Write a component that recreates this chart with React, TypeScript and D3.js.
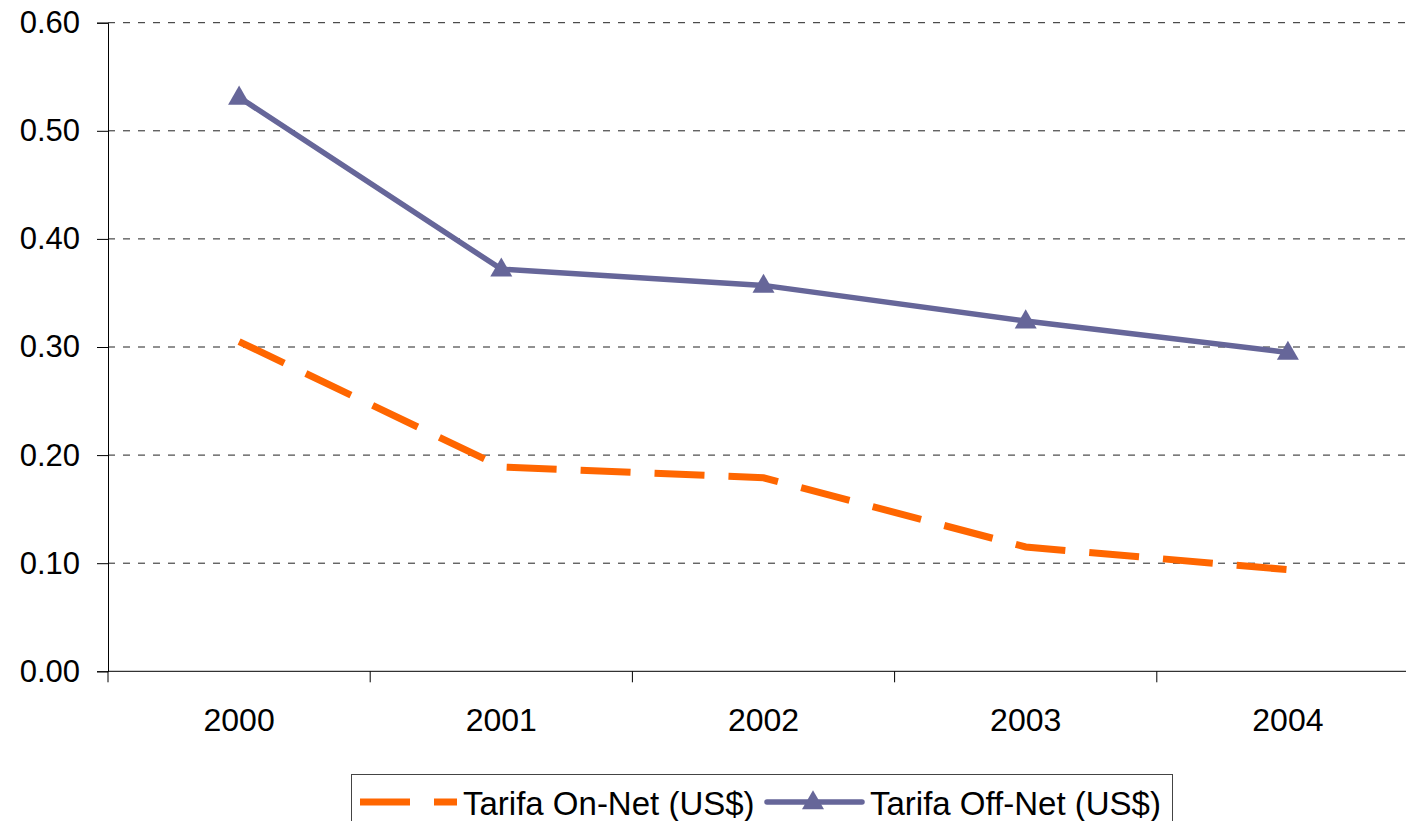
import React, { useRef, useEffect } from 'react';
import * as d3 from 'd3';

const years = ['2000', '2001', '2002', '2003', '2004'];
const onNet = [0.305, 0.189, 0.179, 0.115, 0.094];
const offNet = [0.531, 0.372, 0.357, 0.324, 0.295];
const yTicks = [0, 0.1, 0.2, 0.3, 0.4, 0.5, 0.6];

const W = 1406;
const H = 821;
const FONT = 'Liberation Sans, Arial, sans-serif';
const ORANGE = '#FF6600';
const PURPLE = '#666699';

const App = () => {
  const svgRef = useRef<SVGSVGElement>(null);

  useEffect(() => {
    const svg = d3.select(svgRef.current);
    svg.selectAll('*').remove();

    const margin = { top: 22.7, left: 108, bottom: 671.3 };
    const bandW = 262.2;

    const x = d3.scaleBand()
      .domain(years)
      .range([margin.left, margin.left + bandW * years.length]);

    const y = d3.scaleLinear()
      .domain([0, 0.6])
      .range([margin.bottom, margin.top]);

    // gridlines
    svg.append('g')
      .selectAll('line')
      .data(yTicks.slice(1))
      .enter()
      .append('line')
      .attr('x1', margin.left)
      .attr('x2', W)
      .attr('y1', d => y(d))
      .attr('y2', d => y(d))
      .attr('stroke', '#222')
      .attr('stroke-width', 1)
      .attr('stroke-dasharray', '7 8');

    // y axis
    const yAxis = d3.axisLeft(y)
      .tickValues(yTicks)
      .tickFormat(d3.format('.2f'))
      .tickSize(11)
      .tickPadding(17);
    const gy = svg.append('g')
      .attr('transform', `translate(${margin.left},0)`)
      .call(yAxis);
    gy.select('.domain').attr('stroke', '#000');
    gy.selectAll('line').attr('stroke', '#000');
    gy.selectAll('text')
      .attr('font-family', FONT)
      .attr('font-size', 31)
      .attr('fill', '#000');

    // x axis
    svg.append('line')
      .attr('x1', margin.left)
      .attr('x2', W)
      .attr('y1', margin.bottom)
      .attr('y2', margin.bottom)
      .attr('stroke', '#000');
    svg.append('g')
      .selectAll('line')
      .data(d3.range(years.length + 1))
      .enter()
      .append('line')
      .attr('x1', i => margin.left + i * bandW)
      .attr('x2', i => margin.left + i * bandW)
      .attr('y1', margin.bottom)
      .attr('y2', margin.bottom + 11)
      .attr('stroke', '#000');
    svg.append('g')
      .selectAll('text')
      .data(years)
      .enter()
      .append('text')
      .attr('x', d => (x(d) as number) + x.bandwidth() / 2)
      .attr('y', 731)
      .attr('text-anchor', 'middle')
      .attr('font-family', FONT)
      .attr('font-size', 32)
      .text(d => d);

    const cx = (i: number) => (x(years[i]) as number) + x.bandwidth() / 2;
    const line = d3.line<number>()
      .x((d, i) => cx(i))
      .y(d => y(d));

    svg.append('path')
      .datum(onNet)
      .attr('d', line)
      .attr('fill', 'none')
      .attr('stroke', ORANGE)
      .attr('stroke-width', 7)
      .attr('stroke-dasharray', '50 24');

    svg.append('path')
      .datum(offNet)
      .attr('d', line)
      .attr('fill', 'none')
      .attr('stroke', PURPLE)
      .attr('stroke-width', 5.5);

    const tri = d3.symbol().type(d3.symbolTriangle).size(210);
    svg.append('g')
      .selectAll('path')
      .data(offNet)
      .enter()
      .append('path')
      .attr('d', tri)
      .attr('transform', (d, i) => `translate(${cx(i)},${y(d) + 1})`)
      .attr('fill', PURPLE);

    // legend
    const lg = svg.append('g');
    lg.append('rect')
      .attr('x', 351.5)
      .attr('y', 774.5)
      .attr('width', 821)
      .attr('height', 80)
      .attr('fill', '#fff')
      .attr('stroke', '#444');
    const ly = 802;
    lg.append('line')
      .attr('x1', 360).attr('x2', 457)
      .attr('y1', ly).attr('y2', ly)
      .attr('stroke', ORANGE)
      .attr('stroke-width', 7)
      .attr('stroke-dasharray', '50 24');
    lg.append('text')
      .attr('x', 463).attr('y', 815)
      .attr('font-family', FONT)
      .attr('font-size', 33)
      .text('Tarifa On-Net (US$)');
    lg.append('line')
      .attr('x1', 767).attr('x2', 862)
      .attr('y1', ly).attr('y2', ly)
      .attr('stroke', PURPLE)
      .attr('stroke-width', 5.5)
      .attr('stroke-linecap', 'round');
    lg.append('path')
      .attr('d', tri)
      .attr('transform', `translate(813,${ly + 1})`)
      .attr('fill', PURPLE);
    lg.append('text')
      .attr('x', 870).attr('y', 815)
      .attr('font-family', FONT)
      .attr('font-size', 33)
      .text('Tarifa Off-Net (US$)');
  }, []);

  return (
    <svg
      ref={svgRef}
      width={W}
      height={H}
      style={{ position: 'absolute', left: 0, top: 0, background: '#fff' }}
    ></svg>
  );
};

export default App;
